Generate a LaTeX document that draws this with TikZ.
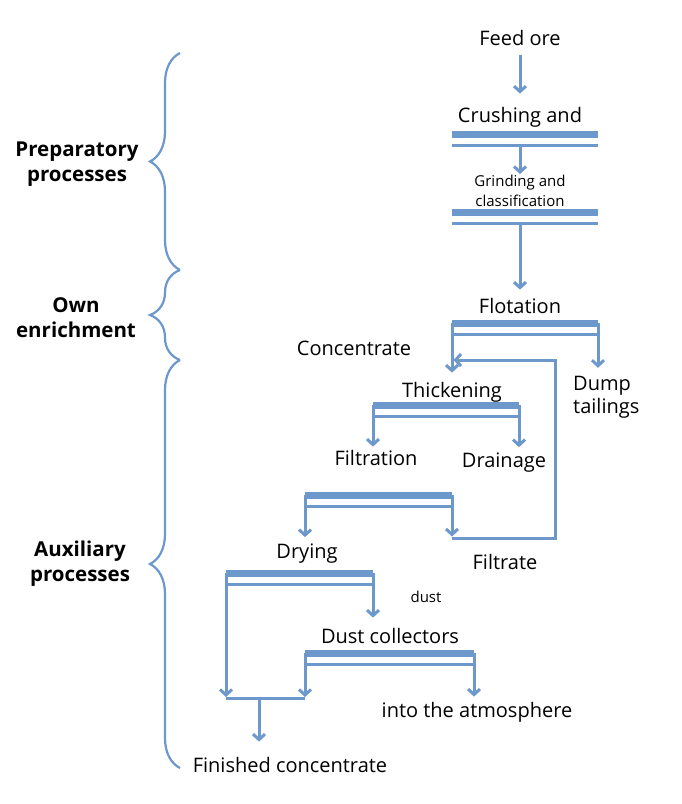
\documentclass[tikz,border=0pt]{standalone}
\usepackage{fontspec}
\setmainfont{Open Sans}
\usetikzlibrary{arrows.meta,decorations.pathreplacing}
\definecolor{flowblue}{HTML}{6C98CC}

% unit symbol: thick bar over thin bar
\newcommand{\unitbar}[4]{%
  \draw[barthick] (#2,#4) -- (#3,#4);
  \draw[barthin] (#2,#4+11) -- (#3,#4+11);
  \coordinate (#1-l) at (#2,#4);
  \coordinate (#1-r) at (#3,#4);
}

\begin{document}
\begin{tikzpicture}[x=1pt,y=-1pt,
  lbl/.style={font=\fontsize{20}{23}\selectfont, inner sep=1pt},
  note/.style={font=\fontsize{15}{20}\selectfont, inner sep=1pt, align=center},
  grp/.style={font=\fontsize{20.5}{25}\selectfont\bfseries, align=center, inner sep=1pt},
  arr/.style={flowblue, line width=3pt, -{Straight Barb[length=5.5pt,width=12pt]}},
  link/.style={flowblue, line width=3pt},
  barthick/.style={flowblue, line width=7pt},
  barthin/.style={flowblue, line width=3pt},
  curly/.style={flowblue, line width=2.2pt, decorate, decoration={brace, amplitude=30pt, #1}},
  curly/.default={aspect=0.5},
]
\useasboundingbox (0,0) rectangle (681,804);

% --- Groups ---
\node[grp] (prep) at (77,164) {Preparatory\\processes};
\node[grp] (own) at (76,318) {Own\\enrichment};
\node[grp] (aux) at (80,564) {Auxiliary\\processes};
\draw[curly] (180,270) -- (180,53);
\draw[curly] (180,360) -- (180,270);
\draw[curly] (180,768) -- (180,360);

% --- Labels ---
\node[lbl, anchor=base] (feed) at (520,45) {Feed ore};
\node[lbl, anchor=base] (crush) at (520,122) {Crushing and};
\node[note] (grind) at (520,191) {Grinding and\\classification};
\node[lbl, anchor=base] (flot) at (520,313) {Flotation};
\node[lbl, anchor=base] (conc) at (354,355) {Concentrate};
\node[lbl, anchor=west, align=left] (dump) at (572,397) {Dump\\tailings};
\node[lbl, anchor=base] (thick) at (452,397) {Thickening};
\node[lbl, anchor=base] (filtn) at (376,465) {Filtration};
\node[lbl, anchor=base] (drain) at (504,467) {Drainage};
\node[lbl, anchor=base] (drying) at (307,558) {Drying};
\node[lbl, anchor=base] (filtrate) at (505,569) {Filtrate};
\node[note, anchor=base] (dust) at (426,602) {dust};
\node[lbl, anchor=base] (dustcol) at (390,643) {Dust collectors};
\node[lbl, anchor=base] (atmo) at (477,717) {into the atmosphere};
\node[lbl, anchor=base] (fin) at (290,772) {Finished concentrate};

% --- Units ---
\unitbar{crushbar}{452}{598}{134}
\unitbar{grindbar}{452}{598}{212}
\unitbar{flotbar}{452}{598}{323}
\unitbar{thickbar}{373}{519}{405}
\unitbar{filtbar}{305}{452}{495}
\unitbar{drybar}{226}{373}{573}
\unitbar{dcbar}{305}{474}{653}
\coordinate (retbot) at (555,538);
\coordinate (rettop) at (555,360);
\coordinate (mergec) at (259,698);

% --- Flows ---
\draw[arr, shorten <=9pt, shorten >=12pt] (feed.south) -- (crush.north);
\draw[arr] (grind.north |- crushbar-r) ++(0,11) -- (grind.north);
\draw[arr, shorten >=7pt] (flot.north |- grindbar-r) ++(0,11) -- (flot.north);
\draw[arr, shorten >=8pt] (flotbar-l) -- (flotbar-l |- thick.north);
\draw[arr, shorten >=7pt] (flotbar-r) -- (flotbar-r |- dump.north);
\draw[arr, shorten >=2pt] (thickbar-l) -- (thickbar-l |- filtn.north);
\draw[arr, shorten >=4pt] (thickbar-r) -- (thickbar-r |- drain.north);
\draw[arr, shorten >=5pt] (filtbar-l) -- (filtbar-l |- drying.north);
\draw[arr, shorten >=1.5pt] (filtbar-r) -- (filtbar-r |- retbot);
\draw[arr, shorten >=1.5pt] (filtbar-r |- retbot) -- (retbot) -- (rettop) -- (flotbar-l |- rettop);
\draw[arr, shorten >=9pt] (drybar-r) -- (drybar-r |- dustcol.north);
\draw[arr, shorten >=1pt] (drybar-l) -- (drybar-l |- mergec);
\draw[arr, shorten >=1pt] (dcbar-l) -- (dcbar-l |- mergec);
\draw[arr, shorten >=4pt] (dcbar-r) -- (dcbar-r |- atmo.north);
\draw[link] (drybar-l |- mergec) -- (dcbar-l |- mergec);
\draw[arr, shorten >=14pt] (mergec) -- (mergec |- fin.north);

\end{tikzpicture}
\end{document}
